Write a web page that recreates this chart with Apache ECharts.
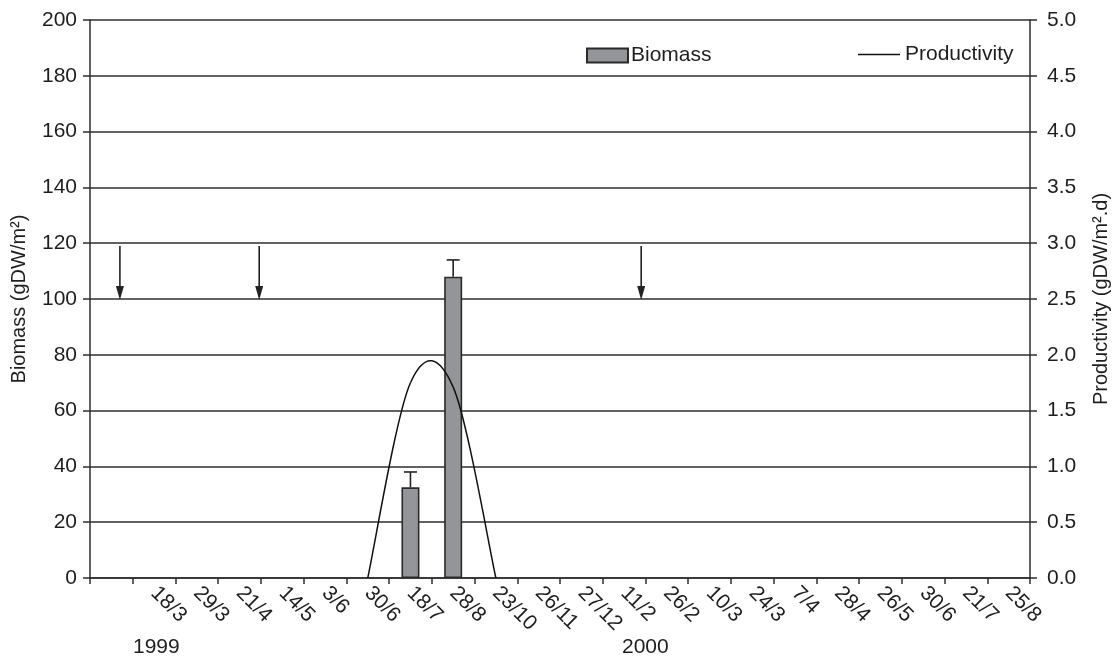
<!DOCTYPE html>
<html><head><meta charset="utf-8">
<script src="https://cdn.jsdelivr.net/npm/echarts@6/dist/echarts.min.js"></script>
<style>html,body{margin:0;padding:0;background:#fff}#c{width:1119px;height:657px}</style>
</head><body><div id="c"></div>
<script>
// ---- data ----
const categories = ['', '18/3', '29/3', '21/4', '14/5', '3/6', '30/6', '18/7', '28/8', '23/10', '26/11', '27/12', '11/2', '26/2', '10/3', '24/3', '7/4', '28/4', '26/5', '30/6', '21/7', '25/8'];
const biomass = [null, null, null, null, null, null, null, 32.5, 108, null, null, null, null, null, null, null, null, null, null, null, null, null];
const biomassUpper = [null, null, null, null, null, null, null, 38, 114, null, null, null, null, null, null, null, null, null, null, null, null, null];
const productivity = [null, null, null, null, null, null, 0, 1.75, 1.71, 0, null, null, null, null, null, null, null, null, null, null, null, null];
const arrowPositions = [0.7, 3.96, 12.9];
const arrowFrom = 119;
const arrowTo = 100;
const yearLabels = ['1999', '2000'];
const biomassTicks = { min: 0, max: 200, interval: 20 };
const productivityTicks = { min: 0, max: 5, interval: 0.5 };

const FONT = "'Liberation Sans', Arial, sans-serif";
const FS = 21;
const TXT = '#1e1e1e';
const LINE = '#2e2e2e';
const LW = 1.5;

const prodPts = [];
productivity.forEach((v, i) => { if (v !== null) prodPts.push([i, v]); });
const errData = [];
biomass.forEach((v, i) => { if (v !== null && biomassUpper[i] !== null) errData.push([i, v, biomassUpper[i]]); });
const arrowData = arrowPositions.map(x => [x, arrowFrom, arrowTo]);

const chart = echarts.init(document.getElementById('c'), null, { renderer: 'canvas' });
chart.setOption({
  backgroundColor: '#fff',
  animation: false,
  textStyle: { fontFamily: FONT, color: TXT },
  grid: { left: 90, right: 84, top: 20, bottom: 79 },
  legend: [
    { left: 586, top: 45, padding: 0, itemWidth: 41, itemHeight: 14, itemGap: 0, data: [{ name: 'Biomass', icon: 'rect' }],
      textStyle: { fontSize: FS, fontFamily: FONT, color: TXT, padding: [0, 0, 0, -2] } },
    { left: 858, top: 44, padding: 0, itemWidth: 42, itemHeight: 14, data: [{ name: 'Productivity', icon: 'path://M0,0H40V1.3H0Z' }],
      textStyle: { fontSize: FS, fontFamily: FONT, color: TXT } }
  ],
  xAxis: [
    { type: 'category', data: categories, boundaryGap: true,
      axisLine: { lineStyle: { color: LINE, width: LW } },
      axisTick: { show: true, length: 6, interval: 0, lineStyle: { color: LINE, width: LW } },
      axisLabel: { interval: 0, rotate: -45, fontSize: FS, color: TXT, fontFamily: FONT, margin: 12 },
      splitLine: { show: false } },
    { type: 'value', min: 0, max: categories.length, show: false }
  ],
  yAxis: [
    { type: 'value', min: biomassTicks.min, max: biomassTicks.max, interval: biomassTicks.interval,
      name: 'Biomass (gDW/m²)', nameLocation: 'middle', nameGap: 61,
      nameTextStyle: { fontSize: 20, color: TXT, fontFamily: FONT },
      axisLine: { show: true, lineStyle: { color: LINE, width: LW } },
      axisTick: { show: true, length: 7, lineStyle: { color: LINE, width: LW } },
      axisLabel: { fontSize: FS, color: TXT, margin: 13, fontFamily: FONT },
      splitLine: { show: true, lineStyle: { color: LINE, width: LW } } },
    { type: 'value', position: 'right', min: productivityTicks.min, max: productivityTicks.max, interval: productivityTicks.interval,
      name: 'Productivity (gDW/m².d)', nameLocation: 'middle', nameGap: 61, nameRotate: 90,
      nameTextStyle: { fontSize: 20, color: TXT, fontFamily: FONT },
      axisLine: { show: true, lineStyle: { color: LINE, width: LW } },
      axisTick: { show: true, length: 7, lineStyle: { color: LINE, width: LW } },
      axisLabel: { fontSize: FS, color: TXT, margin: 17, fontFamily: FONT, formatter: v => v.toFixed(1) },
      splitLine: { show: false } }
  ],
  series: [
    { name: 'Biomass', type: 'bar', data: biomass, barWidth: 18, xAxisIndex: 0, yAxisIndex: 0,
      itemStyle: { color: '#939598', borderColor: '#2a2a2a', borderWidth: 1.6 }, z: 3 },
    { name: 'BiomassError', type: 'custom', data: errData, xAxisIndex: 0, yAxisIndex: 0, z: 4,
      encode: { x: 0, y: [1, 2] },
      renderItem: function (params, api) {
        const x = api.value(0);
        const a = api.coord([x, api.value(1)]);
        const b = api.coord([x, api.value(2)]);
        return { type: 'group', children: [
          { type: 'line', shape: { x1: a[0], y1: a[1], x2: b[0], y2: b[1] }, style: { stroke: '#222', lineWidth: 1.6 } },
          { type: 'line', shape: { x1: b[0] - 6.5, y1: b[1], x2: b[0] + 6.5, y2: b[1] }, style: { stroke: '#222', lineWidth: 1.6 } }
        ] };
      } },
    { name: 'Productivity', type: 'custom', data: prodPts, xAxisIndex: 0, yAxisIndex: 1, z: 5,
      itemStyle: { color: '#111' },
      encode: { x: 0, y: 1 },
      renderItem: function (params, api) {
        const i = params.dataIndex;
        if (i >= prodPts.length - 1) return;
        const n = prodPts.length;
        const P = k => api.coord(prodPts[Math.max(0, Math.min(n - 1, k))]);
        const p0 = P(i - 1), p1 = P(i), p2 = P(i + 1), p3 = P(i + 2);
        const c1 = [p1[0] + (p2[0] - p0[0]) / 6, p1[1] + (p2[1] - p0[1]) / 6];
        const c2 = [p2[0] - (p3[0] - p1[0]) / 6, p2[1] - (p3[1] - p1[1]) / 6];
        return { type: 'bezierCurve',
          shape: { x1: p1[0], y1: p1[1], x2: p2[0], y2: p2[1], cpx1: c1[0], cpy1: c1[1], cpx2: c2[0], cpy2: c2[1] },
          style: { stroke: '#111', lineWidth: 1.5, fill: null } };
      } },
    { name: 'Arrows', type: 'custom', data: arrowData, xAxisIndex: 1, yAxisIndex: 0, z: 5,
      encode: { x: 0, y: [1, 2] },
      renderItem: function (params, api) {
        const x = api.value(0);
        const a = api.coord([x, api.value(1)]);
        const b = api.coord([x, api.value(2)]);
        return { type: 'group', children: [
          { type: 'line', shape: { x1: a[0], y1: a[1], x2: b[0], y2: b[1] - 8 }, style: { stroke: '#222', lineWidth: 1.6 } },
          { type: 'polygon', shape: { points: [[b[0] - 4, b[1] - 13], [b[0] + 4, b[1] - 13], [b[0], b[1] + 1]] }, style: { fill: '#222' } }
        ] };
      } }
  ],
  graphic: [
    { type: 'text', left: 133, top: 637, style: { text: yearLabels[0], font: FS + 'px ' + FONT, fill: TXT } },
    { type: 'text', left: 622, top: 637, style: { text: yearLabels[1], font: FS + 'px ' + FONT, fill: TXT } }
  ]
});
</script>
</body></html>
